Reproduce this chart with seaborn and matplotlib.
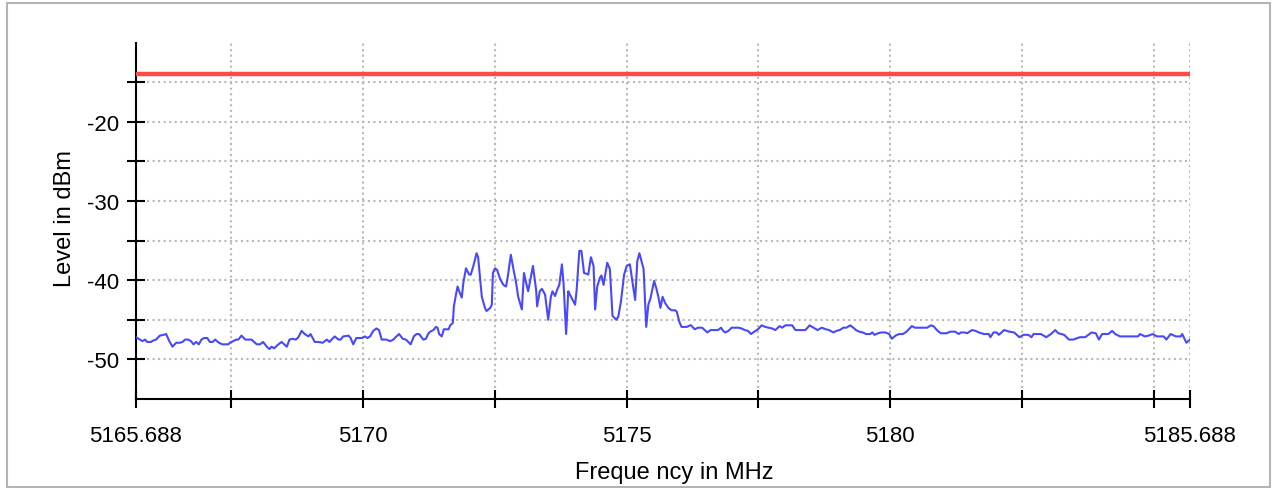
import numpy as np
import matplotlib
matplotlib.use("Agg")
import matplotlib.pyplot as plt
from matplotlib.patches import Rectangle
import seaborn as sns

# axis range and limit line
x_min, x_max = 5165.688, 5185.688
y_min, y_max = -55, -10
limit_dbm = -14.0

x_ticks = [5165.688, 5167.5, 5170, 5172.5, 5175, 5177.5, 5180, 5182.5, 5185, 5185.688]
x_tick_labels = ['5165.688', '', '5170', '', '5175', '', '5180', '', '', '5185.688']
y_ticks = [-15, -20, -25, -30, -35, -40, -45, -50]
y_tick_labels = ['', '-20', '', '-30', '', '-40', '', '-50']

# trace: left noise floor
freq_left = [5165.69, 5165.76, 5165.81, 5165.86, 5165.90, 5165.97, 5166.02, 5166.07, 5166.14, 5166.21,
             5166.26, 5166.32, 5166.38, 5166.45, 5166.52, 5166.57, 5166.62, 5166.68, 5166.73, 5166.78,
             5166.83, 5166.88, 5166.93, 5166.98, 5167.04, 5167.09, 5167.14, 5167.19, 5167.26, 5167.33,
             5167.44, 5167.47, 5167.59, 5167.63, 5167.69, 5167.76, 5167.88, 5167.98, 5168.04, 5168.10,
             5168.17, 5168.22, 5168.26, 5168.31, 5168.39, 5168.45, 5168.50, 5168.55, 5168.60, 5168.66,
             5168.72, 5168.77, 5168.83, 5168.89, 5168.96, 5169.00, 5169.08, 5169.15, 5169.23, 5169.31,
             5169.36, 5169.40, 5169.46, 5169.53, 5169.57, 5169.62, 5169.72, 5169.76, 5169.81, 5169.87,
             5169.98, 5170.03, 5170.08, 5170.13, 5170.19, 5170.25, 5170.30, 5170.35, 5170.44, 5170.51,
             5170.57, 5170.63, 5170.68, 5170.75, 5170.81, 5170.90, 5170.96, 5171.01, 5171.06, 5171.14,
             5171.19, 5171.23]
level_left = [-47.2, -47.5, -47.7, -47.5, -47.8, -47.8, -47.6, -47.5, -47.0, -46.9,
              -46.8, -47.7, -48.4, -47.9, -47.9, -47.8, -47.5, -47.5, -47.7, -48.1,
              -47.8, -48.1, -47.5, -47.3, -47.3, -47.8, -47.8, -47.5, -47.9, -48.1,
              -48.1, -47.9, -47.5, -47.5, -47.0, -47.5, -47.5, -48.1, -48.1, -47.8,
              -48.4, -48.7, -48.4, -48.6, -48.1, -47.8, -48.1, -48.4, -47.5, -47.4,
              -47.5, -47.2, -46.4, -46.8, -47.1, -46.8, -47.8, -47.8, -47.9, -47.5,
              -47.8, -47.5, -47.1, -47.5, -47.5, -47.1, -47.0, -47.3, -48.1, -47.3,
              -47.3, -47.1, -47.3, -47.1, -46.4, -46.1, -46.3, -47.5, -47.5, -47.7,
              -47.5, -47.1, -46.8, -47.4, -47.5, -48.1, -47.1, -46.8, -46.8, -47.5,
              -47.4, -46.8]

# signal band
freq_band = [5171.27, 5171.33, 5171.38, 5171.41, 5171.44, 5171.49, 5171.53, 5171.58, 5171.62, 5171.65,
             5171.70, 5171.72, 5171.76, 5171.79, 5171.82, 5171.87, 5171.90, 5171.95, 5172.01, 5172.04,
             5172.09, 5172.15, 5172.18, 5172.22, 5172.25, 5172.31, 5172.34, 5172.41, 5172.44, 5172.46,
             5172.50, 5172.54, 5172.60, 5172.66, 5172.71, 5172.74, 5172.80, 5172.85, 5172.90, 5172.94,
             5173.01, 5173.05, 5173.10, 5173.13, 5173.22, 5173.28, 5173.30, 5173.35, 5173.39, 5173.45,
             5173.51, 5173.56, 5173.59, 5173.64, 5173.68, 5173.72, 5173.77, 5173.80, 5173.85, 5173.89,
             5173.92, 5174.02, 5174.05, 5174.10, 5174.14, 5174.19, 5174.24, 5174.27, 5174.32, 5174.37,
             5174.40, 5174.44, 5174.49, 5174.52, 5174.56, 5174.63, 5174.68, 5174.73, 5174.80, 5174.84,
             5174.89, 5174.95, 5175.00, 5175.06, 5175.11, 5175.16, 5175.20, 5175.24, 5175.28, 5175.32,
             5175.37, 5175.41, 5175.45, 5175.52, 5175.56, 5175.60, 5175.64, 5175.68, 5175.73, 5175.79,
             5175.85, 5175.92, 5175.95, 5176.00, 5176.04, 5176.14, 5176.20]
level_band = [-46.5, -46.3, -45.9, -46.0, -46.8, -47.1, -46.2, -46.2, -46.2, -45.7,
              -45.4, -43.3, -41.8, -40.8, -41.4, -42.2, -40.3, -38.5, -39.3, -39.3,
              -38.2, -36.6, -37.1, -39.9, -42.1, -43.5, -43.9, -43.5, -43.1, -39.1,
              -38.5, -38.7, -39.9, -40.6, -40.8, -39.7, -36.8, -38.6, -40.3, -42.1,
              -43.7, -39.1, -40.6, -41.4, -38.2, -41.2, -43.3, -41.4, -41.1, -41.8,
              -45.0, -42.1, -41.4, -42.0, -41.2, -40.6, -38.0, -40.3, -46.8, -41.4,
              -41.8, -43.1, -41.2, -36.3, -36.3, -39.1, -39.2, -39.3, -37.1, -38.2,
              -43.7, -40.8, -39.7, -39.4, -40.6, -37.8, -38.6, -44.5, -45.0, -44.6,
              -42.7, -39.3, -38.2, -38.0, -40.3, -42.5, -37.6, -36.6, -37.6, -38.6,
              -45.9, -43.1, -42.3, -40.1, -41.0, -42.1, -43.5, -42.1, -42.9, -43.5,
              -43.8, -43.8, -44.0, -45.3, -45.9, -45.9, -45.7]

# right noise floor
freq_right = [5176.22, 5176.29, 5176.35, 5176.43, 5176.48, 5176.53, 5176.59, 5176.67, 5176.73, 5176.79,
              5176.83, 5176.87, 5176.93, 5176.99, 5177.12, 5177.18, 5177.24, 5177.30, 5177.36, 5177.42,
              5177.49, 5177.56, 5177.63, 5177.69, 5177.76, 5177.82, 5177.90, 5177.95, 5178.01, 5178.14,
              5178.20, 5178.27, 5178.39, 5178.47, 5178.52, 5178.62, 5178.70, 5178.78, 5178.84, 5178.92,
              5178.98, 5179.04, 5179.11, 5179.17, 5179.24, 5179.30, 5179.35, 5179.41, 5179.48, 5179.54,
              5179.62, 5179.66, 5179.70, 5179.77, 5179.83, 5179.91, 5179.98, 5180.03, 5180.10, 5180.17,
              5180.24, 5180.31, 5180.41, 5180.47, 5180.70, 5180.77, 5180.82, 5180.90, 5180.96, 5181.07,
              5181.14, 5181.23, 5181.30, 5181.34, 5181.41, 5181.46, 5181.55, 5181.62, 5181.68, 5181.78,
              5181.87, 5181.90, 5181.96, 5182.02, 5182.06, 5182.16, 5182.26, 5182.35, 5182.45, 5182.53,
              5182.62, 5182.68, 5182.72, 5182.86, 5182.96, 5183.05, 5183.13, 5183.19, 5183.30, 5183.39,
              5183.47, 5183.60, 5183.70, 5183.82, 5183.90, 5183.96, 5184.02, 5184.14, 5184.21, 5184.27,
              5184.36, 5184.70, 5184.74, 5184.83, 5184.90, 5184.98, 5185.06, 5185.19, 5185.24, 5185.32,
              5185.42, 5185.51, 5185.54, 5185.62, 5185.688]
level_right = [-45.7, -46.2, -46.0, -46.0, -46.3, -46.6, -46.3, -46.3, -46.3, -46.0,
               -46.4, -46.6, -46.4, -46.0, -46.0, -46.1, -46.3, -46.4, -46.8, -46.5,
               -46.2, -45.7, -45.9, -46.0, -46.1, -46.3, -45.8, -46.0, -45.7, -45.7,
               -46.3, -46.3, -46.3, -45.7, -45.9, -46.3, -46.0, -46.2, -46.3, -46.6,
               -46.4, -46.3, -46.0, -46.0, -45.7, -46.0, -46.3, -46.5, -46.6, -46.8,
               -46.8, -46.6, -46.9, -46.7, -46.6, -46.6, -46.8, -47.4, -47.0, -46.8,
               -46.8, -46.5, -45.8, -46.0, -46.0, -45.7, -45.8, -46.4, -46.7, -46.7,
               -46.5, -46.5, -46.8, -46.6, -46.6, -46.7, -46.3, -46.4, -46.6, -46.8,
               -46.8, -47.2, -46.6, -46.6, -46.9, -46.3, -46.5, -46.6, -47.2, -46.9,
               -46.9, -47.2, -46.8, -46.8, -47.2, -46.8, -46.3, -46.7, -46.9, -47.5,
               -47.5, -47.2, -47.2, -46.6, -46.7, -47.5, -46.8, -46.8, -46.4, -46.8,
               -47.1, -47.1, -46.8, -47.1, -47.0, -46.8, -47.1, -47.1, -47.5, -46.8,
               -47.1, -47.1, -46.8, -47.9, -47.5]

freq = np.array(freq_left + freq_band + freq_right)
level = np.array(level_left + level_band + level_right)

sns.set_style("white")
plt.rcParams['font.family'] = ['Liberation Sans', 'DejaVu Sans']
plt.rcParams['text.color'] = 'black'

fig = plt.figure(figsize=(12.79, 4.89), dpi=100)
fig.patches.append(Rectangle((7 / 1279, 1 / 489), 1263 / 1279, 484 / 489,
                             transform=fig.transFigure, fill=False,
                             ec='#b4b4b4', lw=1.5, zorder=0))
ax = fig.add_axes([136 / 1279, 1 - 400 / 489, 1054 / 1279, 356.5 / 489])

sns.lineplot(x=freq, y=level, color='#4848ff', lw=1.5, ax=ax, zorder=3)
sns.lineplot(x=[x_min, x_max], y=[limit_dbm, limit_dbm], color='#ff4a4a', lw=3.2, ax=ax, zorder=4)

ax.set_xlim(x_min, x_max)
ax.set_ylim(y_min, y_max)
ax.set_xticks(x_ticks)
ax.set_xticklabels(x_tick_labels)
ax.set_yticks(y_ticks)
ax.set_yticklabels(y_tick_labels)
ax.tick_params(axis='both', which='major', bottom=True, left=True, direction='inout',
               length=13, width=1.5, color='black', labelsize=16, labelcolor='black')
ax.tick_params(axis='x', pad=12)
ax.tick_params(axis='y', pad=6)
ax.grid(True, ls=':', color='#b8b8b8', lw=1.5)
for side in ['top', 'right']:
    ax.spines[side].set_visible(False)
for side in ['left', 'bottom']:
    ax.spines[side].set_color('black')
    ax.spines[side].set_linewidth(1.5)
ax.set_xlabel('')
ax.set_ylabel('')

fig.text(65 / 1279, 1 - 219 / 489, 'Level in dBm', rotation=90, ha='center', va='center',
         fontsize=17, color='black')
fig.text(674 / 1279, 1 - 473 / 489, 'Freque ncy in MHz', ha='center', va='center',
         fontsize=17, color='black')

fig.savefig('out.png', dpi=100)
